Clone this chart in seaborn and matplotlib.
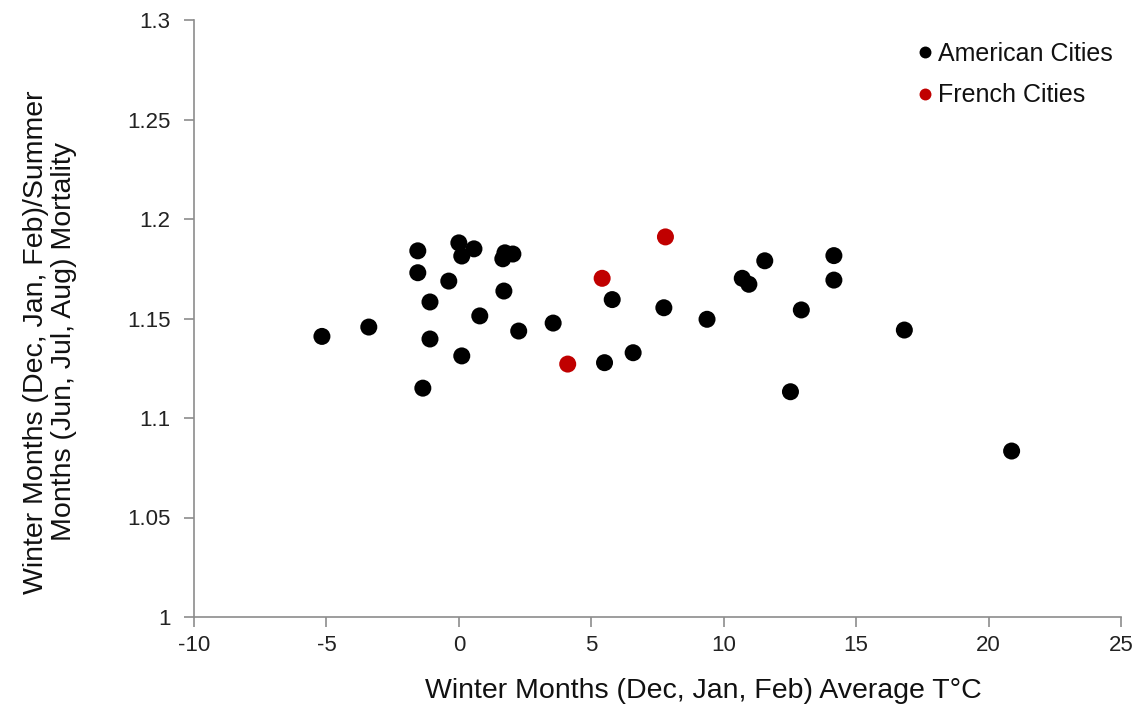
import matplotlib
matplotlib.use("Agg")
import matplotlib.pyplot as plt
import seaborn as sns
import pandas as pd

american_x = [-5.17, -3.40, -1.55, -1.55, -1.09, -1.09, -1.36, -0.38, 0.0, 0.11, 0.57,
              0.11, 0.79, 1.66, 1.74, 2.04, 1.70, 2.26, 3.56, 5.50, 5.79, 6.58, 7.74,
              9.37, 10.70, 10.95, 11.55, 12.52, 12.93, 14.16, 14.16, 16.82, 20.87]
american_y = [1.141, 1.1457, 1.184, 1.173, 1.1583, 1.1397, 1.115, 1.1688, 1.188, 1.1814,
              1.185, 1.1312, 1.1513, 1.180, 1.183, 1.1824, 1.1638, 1.1437, 1.1477, 1.1278,
              1.1595, 1.1328, 1.1554, 1.1496, 1.1702, 1.1672, 1.179, 1.1132, 1.1543,
              1.1816, 1.1693, 1.1442, 1.0834]
french_x = [4.11, 5.41, 7.80]
french_y = [1.1271, 1.1702, 1.191]

groups = ["American Cities", "French Cities"]
colors = {"American Cities": "#000000", "French Cities": "#C00000"}

x_ticks = [-10, -5, 0, 5, 10, 15, 20, 25]
y_ticks = [1.0, 1.05, 1.1, 1.15, 1.2, 1.25, 1.3]
y_tick_labels = ["1", "1.05", "1.1", "1.15", "1.2", "1.25", "1.3"]

df = pd.DataFrame({
    "x": american_x + french_x,
    "y": american_y + french_y,
    "group": [groups[0]] * len(american_x) + [groups[1]] * len(french_x),
})

sns.set_theme(style="white")
plt.rcParams["font.family"] = ["Liberation Sans", "DejaVu Sans"]

fig = plt.figure(figsize=(11.42, 7.19), dpi=100)
ax = fig.add_axes([194 / 1142, 1 - 617 / 719, (1121 - 194) / 1142, (617 - 20) / 719])

sns.scatterplot(data=df, x="x", y="y", hue="group", palette=colors, hue_order=groups,
                s=150, edgecolor="none", linewidth=0, ax=ax, legend=True)

ax.set_xlim(-10, 25)
ax.set_ylim(1.0, 1.3)
ax.set_xticks(x_ticks)
ax.set_xticklabels([str(t) for t in x_ticks])
ax.set_yticks(y_ticks)
ax.set_yticklabels(y_tick_labels)

for side in ["top", "right"]:
    ax.spines[side].set_visible(False)
for side in ["left", "bottom"]:
    ax.spines[side].set_color("#8c8c8c")
    ax.spines[side].set_linewidth(1.2)

ax.tick_params(axis="both", which="major", direction="out", length=7, width=1.2,
               color="#8c8c8c", labelsize=16, labelcolor="#222222")
ax.tick_params(axis="x", bottom=True, pad=6)
ax.tick_params(axis="y", left=True, pad=10)

ax.set_xlabel("Winter Months (Dec, Jan, Feb) Average T°C", fontsize=20.5, color="#111111")
ax.xaxis.set_label_coords(0.549, -0.103)
ax.set_ylabel("Winter Months (Dec, Jan, Feb)/Summer\nMonths (Jun, Jul, Aug) Mortality",
              fontsize=20.5, color="#111111", linespacing=1.12)
ax.yaxis.set_label_coords(-0.126, 0.461)

leg = ax.legend(loc="upper left", bbox_to_anchor=(0.7805, 0.9635), frameon=False, fontsize=18,
                handletextpad=0.2, handlelength=0.6, markerscale=0.7, labelspacing=0.7,
                borderaxespad=0.0, borderpad=0.0)
for t in leg.get_texts():
    t.set_color("#111111")

ax.grid(False)
fig.savefig("out.png", dpi=100)
